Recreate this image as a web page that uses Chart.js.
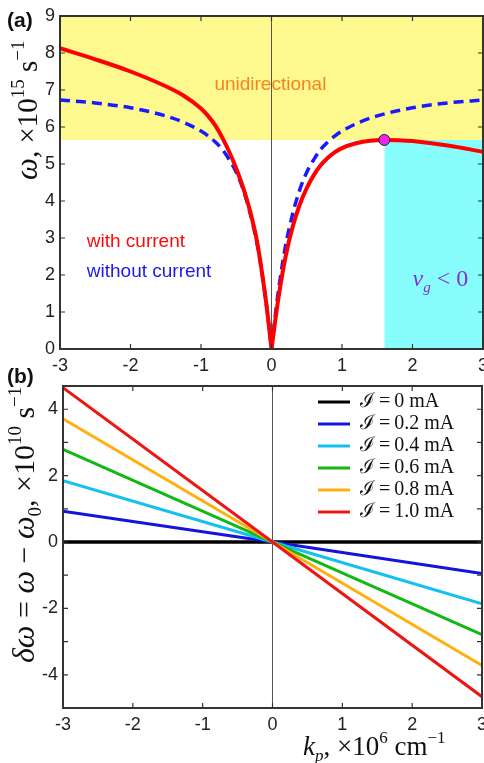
<!DOCTYPE html>
<html>
<head>
<meta charset="utf-8">
<script src="https://cdn.jsdelivr.net/npm/chart.js@4.4.0/dist/chart.umd.min.js"></script>
<style>
body { margin: 0; background: #fff; }
#wrap { position: relative; width: 484px; height: 763px; }
#wrap canvas { position: absolute; left: 0; }
</style>
</head>
<body>
<div id="wrap">
<canvas id="grafA" width="484" height="378" style="top:0px"></canvas>
<canvas id="grafB" width="484" height="403" style="top:360px"></canvas>
</div>
<script>
// ---- panel (a): dispersion ----
var kCon = [-3, -2.5, -2, -1.5, -1.25, -1.0, -0.9, -0.8, -0.7, -0.6, -0.5, -0.4, -0.3, -0.2, -0.1, -0.05, 0,
            0.05, 0.1, 0.2, 0.3, 0.4, 0.5, 0.6, 0.7, 0.8, 0.9, 1.0, 1.2, 1.4, 1.6, 1.8, 2.0, 2.5, 3];
var wCon = [8.13, 7.83, 7.5, 7.1, 6.85, 6.5, 6.3, 6.05, 5.72, 5.33, 4.88, 4.35, 3.7, 2.85, 1.6, 0.85, 0,
            0.72, 1.4, 2.5, 3.3, 3.9, 4.35, 4.7, 4.97, 5.17, 5.32, 5.43, 5.56, 5.63, 5.65, 5.645, 5.62, 5.5, 5.33];
var kSin = [-3, -2.5, -2, -1.5, -1.25, -1.0, -0.9, -0.8, -0.7, -0.6, -0.5, -0.4, -0.3, -0.2, -0.1, -0.05, 0,
            0.05, 0.1, 0.2, 0.3, 0.4, 0.5, 0.6, 0.7, 0.8, 0.9, 1.0, 1.25, 1.5, 2.0, 2.5, 3];
var wSin = [6.73, 6.65, 6.52, 6.3, 6.13, 5.89, 5.76, 5.6, 5.4, 5.12, 4.78, 4.3, 3.65, 2.8, 1.6, 0.85, 0,
            0.85, 1.6, 2.8, 3.65, 4.3, 4.78, 5.12, 5.4, 5.6, 5.76, 5.89, 6.13, 6.3, 6.52, 6.65, 6.73];
var limiteUni = 5.65;     // lower edge of the unidirectional band
var kMax = 1.6;           // start of v_g < 0 region
var xTicks = [-3, -2, -1, 0, 1, 2, 3];
var yTicksA = [0, 1, 2, 3, 4, 5, 6, 7, 8, 9];

// ---- panel (b): frequency shift ----
var kLin = [-3, 0, 3];
var etiquetas = ['\u2110\u2009=\u20090 mA', '\u2110\u2009=\u20090.2 mA', '\u2110\u2009=\u20090.4 mA',
                 '\u2110\u2009=\u20090.6 mA', '\u2110\u2009=\u20090.8 mA', '\u2110\u2009=\u20091.0 mA'];
var colores = ['#000000', '#1414dc', '#14c0f0', '#14b814', '#ffb010', '#ee1515'];
var dw00 = [0, 0, 0];
var dw02 = [0.93, 0, -0.95];
var dw04 = [1.85, 0, -1.86];
var dw06 = [2.79, 0, -2.79];
var dw08 = [3.71, 0, -3.72];
var dw10 = [4.65, 0, -4.66];
var yTicksB = [-4, -2, 0, 2, 4];

function puntos(xs, ys) {
    return xs.map(function (x, i) { return { x: x, y: ys[i] }; });
}

// split a curve at k = 0 so the cusp stays sharp
function rama(xs, ys, izquierda) {
    var i0 = xs.indexOf(0);
    return izquierda ? puntos(xs.slice(0, i0 + 1), ys.slice(0, i0 + 1)) : puntos(xs.slice(i0), ys.slice(i0));
}

function texto(ctx, x, y, partes, rotar) {
    ctx.save();
    ctx.translate(x, y);
    if (rotar) ctx.rotate(-Math.PI / 2);
    ctx.textAlign = 'left';
    ctx.textBaseline = 'alphabetic';
    var pos = 0;
    partes.forEach(function (p) {
        ctx.font = p[1];
        ctx.fillStyle = p[3] || '#111';
        ctx.fillText(p[0], pos, p[2]);
        pos += ctx.measureText(p[0]).width;
    });
    ctx.restore();
}

var marcas = {
    id: 'marcas',
    afterDatasetsDraw: function (chart) {
        var ctx = chart.ctx, a = chart.chartArea;
        var sx = chart.scales.x, sy = chart.scales.y;
        ctx.save();
        ctx.strokeStyle = '#333';
        ctx.lineWidth = 1.2;
        ctx.beginPath();
        sx.ticks.forEach(function (t) {
            var x = sx.getPixelForValue(t.value);
            ctx.moveTo(x, a.bottom); ctx.lineTo(x, a.bottom - 5);
            ctx.moveTo(x, a.top); ctx.lineTo(x, a.top + 5);
        });
        sy.ticks.forEach(function (t) {
            var y = sy.getPixelForValue(t.value);
            ctx.moveTo(a.left, y); ctx.lineTo(a.left + 5, y);
            ctx.moveTo(a.right, y); ctx.lineTo(a.right - 5, y);
        });
        ctx.stroke();
        ctx.lineWidth = 2;
        ctx.strokeRect(a.left, a.top, a.right - a.left, a.bottom - a.top);
        ctx.restore();
    }
};

var fuenteTicks = { family: 'Liberation Sans, Arial, sans-serif', size: 18 };
var serif = 'Liberation Serif, Times New Roman, serif';

function ejes(ymin, ymax, ancho, alto, etiquetasY) {
    return {
        x: {
            type: 'linear', min: -3, max: 3,
            grid: { display: false, drawTicks: false }, border: { display: false },
            ticks: { stepSize: 1, padding: 6, color: '#222', font: fuenteTicks, maxRotation: 0, autoSkip: false,
                     callback: function (v) { return xTicks.indexOf(v) >= 0 ? String(v) : ''; } },
            afterFit: function (s) { s.height = alto; s.paddingLeft = 0; s.paddingRight = 0; }
        },
        y: {
            type: 'linear', min: ymin, max: ymax,
            grid: { display: false, drawTicks: false }, border: { display: false },
            ticks: { stepSize: 1, includeBounds: false, padding: 5, color: '#222', font: fuenteTicks, autoSkip: false,
                     callback: function (v) { return etiquetasY.indexOf(v) >= 0 ? String(v) : ''; } },
            afterFit: function (s) { s.width = ancho; s.paddingTop = 0; s.paddingBottom = 0; }
        }
    };
}

// ---------- chart (a) ----------
var textosA = {
    id: 'textosA',
    afterDraw: function (chart) {
        var ctx = chart.ctx, sx = chart.scales.x, sy = chart.scales.y;
        texto(ctx, 7, 27, [['(a)', 'bold 21px Liberation Sans', 0]]);
        texto(ctx, 37, 180, [
            ['\u03c9', 'italic 31px ' + serif, 0],
            [', \u00d710', '29px ' + serif, 0],
            ['15', '19px ' + serif, -13],
            [' s', '29px ' + serif, 0],
            ['\u22121', '19px ' + serif, -13]
        ], true);
        ctx.save();
        ctx.textBaseline = 'middle';
        ctx.font = '19px Liberation Sans, Arial, sans-serif';
        ctx.fillStyle = '#f5841f';
        ctx.fillText('unidirectional', sx.getPixelForValue(-0.81), sy.getPixelForValue(7.14));
        ctx.fillStyle = '#ff0a0a';
        ctx.fillText('with current', sx.getPixelForValue(-2.62), sy.getPixelForValue(2.9));
        ctx.fillStyle = '#1a1aee';
        ctx.fillText('without current', sx.getPixelForValue(-2.62), sy.getPixelForValue(2.1));
        ctx.restore();
        texto(ctx, sx.getPixelForValue(2.0), sy.getPixelForValue(1.7), [
            ['v', 'italic 24px ' + serif, 0, '#8030e0'],
            ['g', 'italic 15px ' + serif, 6, '#8030e0'],
            [' < 0', '24px ' + serif, 0, '#8030e0']
        ]);
    }
};

var lineaRoja = { borderColor: '#ff0000', borderWidth: 4, pointRadius: 0, cubicInterpolationMode: 'monotone', fill: false, order: 1 };
var lineaAzul = { borderColor: '#1a1aff', borderWidth: 3.5, borderDash: [10, 6], pointRadius: 0, cubicInterpolationMode: 'monotone', fill: false, order: 2 };

new Chart(document.getElementById('grafA'), {
    type: 'line',
    data: {
        datasets: [
            { data: [{ x: kMax, y: limiteUni }], order: 0, showLine: false, pointRadius: 5.5,
              pointBackgroundColor: '#ee22ee', pointBorderColor: '#222', pointBorderWidth: 1 },
            Object.assign({ data: rama(kCon, wCon, true) }, lineaRoja),
            Object.assign({ data: rama(kCon, wCon, false) }, lineaRoja),
            Object.assign({ data: rama(kSin, wSin, true) }, lineaAzul),
            Object.assign({ data: rama(kSin, wSin, false) }, lineaAzul),
            { data: [{ x: 0, y: 0 }, { x: 0, y: 9 }], order: 3, borderColor: '#555', borderWidth: 1, pointRadius: 0, fill: false },
            { data: [{ x: kMax, y: limiteUni }, { x: 3, y: limiteUni }], order: 4, borderWidth: 0, borderColor: 'rgba(0,0,0,0)',
              pointRadius: 0, fill: 'origin', backgroundColor: '#88fdfd' },
            { data: [{ x: -3, y: 9 }, { x: 3, y: 9 }], order: 5, borderWidth: 0, borderColor: 'rgba(0,0,0,0)',
              pointRadius: 0, fill: { value: limiteUni }, backgroundColor: '#fdf98e' }
        ]
    },
    options: {
        responsive: false, animation: false,
        layout: { autoPadding: false, padding: { top: 16, right: 1, left: 0, bottom: 0 } },
        plugins: { legend: { display: false }, tooltip: { enabled: false } },
        scales: ejes(0, 9, 60, 29, yTicksA)
    },
    plugins: [marcas, textosA]
});

// ---------- chart (b) ----------
var series = [dw00, dw02, dw04, dw06, dw08, dw10];

var textosB = {
    id: 'textosB',
    afterDraw: function (chart) {
        var ctx = chart.ctx, a = chart.chartArea;
        texto(ctx, 7, 23, [['(b)', 'bold 21px Liberation Sans', 0]]);
        texto(ctx, 34, 303, [
            ['\u03b4\u03c9', 'italic 32px ' + serif, 0],
            [' = ', '30px ' + serif, 0],
            ['\u03c9', 'italic 32px ' + serif, 0],
            [' \u2212 ', '30px ' + serif, 0],
            ['\u03c9', 'italic 32px ' + serif, 0],
            ['0', '19px ' + serif, 7],
            [', \u00d710', '30px ' + serif, 0],
            ['10', '19px ' + serif, -13],
            [' s', '30px ' + serif, 0],
            ['\u22121', '19px ' + serif, -13]
        ], true);
        texto(ctx, 303, 395, [
            ['k', 'italic 27px ' + serif, 0],
            ['p', 'italic 17px ' + serif, 6],
            [', \u00d710', '27px ' + serif, 0],
            ['6', '17px ' + serif, -12],
            [' cm', '27px ' + serif, 0],
            ['\u22121', '17px ' + serif, -12]
        ]);
        // legend inside the plot
        ctx.save();
        ctx.textBaseline = 'middle';
        ctx.font = '20px ' + serif;
        chart.data.datasets.forEach(function (d, i) {
            if (!d.label) return;
            var y = a.top + 16 + i * 22;
            ctx.strokeStyle = d.borderColor;
            ctx.lineWidth = 3;
            ctx.beginPath();
            ctx.moveTo(a.right - 164, y);
            ctx.lineTo(a.right - 132, y);
            ctx.stroke();
            ctx.fillStyle = '#111';
            ctx.fillText(d.label, a.right - 122, y);
        });
        ctx.restore();
    }
};

var datosB = series.map(function (s, i) {
    return { label: etiquetas[i], data: puntos(kLin, s), borderColor: colores[i], borderWidth: i === 0 ? 3.5 : 3,
             pointRadius: 0, fill: false, order: 6 - i };
});
datosB.push({ data: [{ x: 0, y: -5 }, { x: 0, y: 4.7 }], borderColor: '#555', borderWidth: 1, pointRadius: 0, fill: false, order: 10 });

new Chart(document.getElementById('grafB'), {
    type: 'line',
    data: { datasets: datosB },
    options: {
        responsive: false, animation: false,
        layout: { autoPadding: false, padding: { top: 26, right: 2, left: 0, bottom: 0 } },
        plugins: { legend: { display: false }, tooltip: { enabled: false } },
        scales: ejes(-5, 4.7, 63, 55, yTicksB)
    },
    plugins: [marcas, textosB]
});
</script>
</body>
</html>
